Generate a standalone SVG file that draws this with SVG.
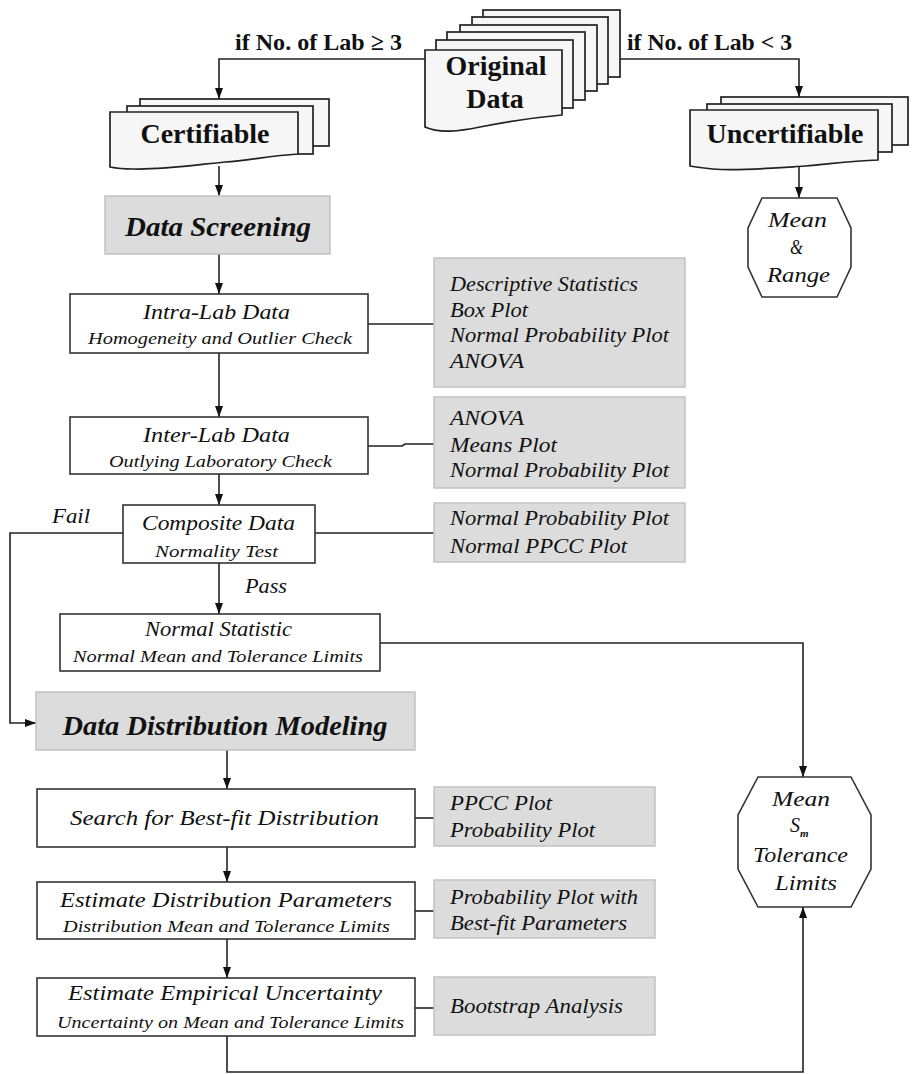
<svg xmlns="http://www.w3.org/2000/svg" width="914" height="1074" viewBox="0 0 914 1074">
<style>
.box{fill:#fff;stroke:#333;stroke-width:1.6}
.gray{fill:#dcdcdc;stroke:#c2c2c2;stroke-width:1.5}
.doc{fill:#f6f6f6;stroke:#222;stroke-width:1.7}
.oct{fill:#fff;stroke:#333;stroke-width:1.6}
.conn{fill:none;stroke:#222;stroke-width:1.6}
.lbl{font-family:"Liberation Serif",serif;font-weight:bold;font-size:24px;fill:#111}
.big{font-family:"Liberation Serif",serif;font-weight:bold;font-size:28px;fill:#111;text-anchor:middle}
.ttl{font-family:"Liberation Serif",serif;font-weight:bold;font-style:italic;font-size:28px;fill:#111;text-anchor:middle}
.it{font-family:"Liberation Serif",serif;font-style:italic;fill:#111}
.t1{font-size:22px}
.t2{font-size:17px}
.t3{font-size:20px}
</style>
<defs>
<marker id="ah" markerUnits="userSpaceOnUse" markerWidth="12" markerHeight="10" refX="11" refY="4" orient="auto">
<path d="M0,0 L11,4 L0,8 Z" fill="#111"/>
</marker>
</defs>
<rect width="914" height="1074" fill="#fff"/>

<g id="connectors">
<polyline class="conn" points="425,59 219,59 219,99" marker-end="url(#ah)"/>
<polyline class="conn" points="620,59 799,59 799,97" marker-end="url(#ah)"/>
<line class="conn" x1="219" y1="166" x2="219" y2="196" marker-end="url(#ah)"/>
<line class="conn" x1="799" y1="165" x2="799" y2="198" marker-end="url(#ah)"/>
<line class="conn" x1="219" y1="254" x2="219" y2="294" marker-end="url(#ah)"/>
<line class="conn" x1="219" y1="353" x2="219" y2="417" marker-end="url(#ah)"/>
<line class="conn" x1="219" y1="474" x2="219" y2="505" marker-end="url(#ah)"/>
<line class="conn" x1="219" y1="563" x2="219" y2="614" marker-end="url(#ah)"/>
<polyline class="conn" points="123,533 10,533 10,723 36,723" marker-end="url(#ah)"/>
<polyline class="conn" points="380,643 803,643 803,777" marker-end="url(#ah)"/>
<line class="conn" x1="227" y1="750" x2="227" y2="789" marker-end="url(#ah)"/>
<line class="conn" x1="227" y1="847" x2="227" y2="882" marker-end="url(#ah)"/>
<line class="conn" x1="227" y1="939" x2="227" y2="978" marker-end="url(#ah)"/>
<polyline class="conn" points="227,1036 227,1072 803,1072 803,907" marker-end="url(#ah)"/>
<line class="conn" x1="368" y1="324" x2="434" y2="324"/>
<polyline class="conn" points="368,446 402,446 405,444 434,444"/>
<line class="conn" x1="315" y1="533" x2="434" y2="533"/>
<line class="conn" x1="415" y1="818" x2="434" y2="818"/>
<line class="conn" x1="415" y1="911" x2="434" y2="911"/>
<line class="conn" x1="415" y1="1008" x2="434" y2="1008"/>
</g>

<g id="labels">
<text class="lbl" x="235" y="50" textLength="167" lengthAdjust="spacingAndGlyphs">if No. of Lab ≥ 3</text>
<text class="lbl" x="627" y="50" textLength="165" lengthAdjust="spacingAndGlyphs">if No. of Lab &lt; 3</text>
<text class="it t3" x="52" y="523" textLength="38" lengthAdjust="spacingAndGlyphs">Fail</text>
<text class="it t3" x="245" y="593" textLength="42" lengthAdjust="spacingAndGlyphs">Pass</text>
</g>

<g id="original-data">
<rect class="doc" x="483" y="10" width="137" height="67"/>
<rect class="doc" x="472" y="17" width="136" height="67"/>
<rect class="doc" x="460" y="25" width="137" height="66"/>
<rect class="doc" x="447" y="32" width="138" height="68"/>
<rect class="doc" x="436" y="40" width="137" height="68"/>
<path class="doc" d="M425,50 H562 V115 C540,117 505,122 480,127 C460,131 440,134 425,127 Z"/>
<text class="big" x="496" y="75">Original</text>
<text class="big" x="495" y="108">Data</text>
</g>

<g id="certifiable">
<rect class="doc" x="140" y="99" width="189" height="47"/>
<rect class="doc" x="127" y="106" width="186" height="48"/>
<path class="doc" d="M110,112 H298 V154 C270,156 250,160 225,162 C195,165 160,170 133,169 C122,169 115,168 110,167 Z"/>
<text class="big" x="205" y="143">Certifiable</text>
</g>

<g id="uncertifiable">
<rect class="doc" x="721" y="97" width="187" height="48"/>
<rect class="doc" x="707" y="104" width="185" height="48"/>
<path class="doc" d="M690,110 H878 V160 C850,161 830,164 805,166 C775,168 740,171 713,169 C702,168 695,167 690,166 Z"/>
<text class="big" x="785" y="143">Uncertifiable</text>
</g>

<g id="mean-range">
<polygon class="oct" points="762,198 837,198 851,228 851,267 837,297 762,297 748,267 748,228"/>
<text class="it t3" x="768" y="227" textLength="59" lengthAdjust="spacingAndGlyphs">Mean</text>
<text class="it t3" x="790" y="254" textLength="13" lengthAdjust="spacingAndGlyphs">&amp;</text>
<text class="it t3" x="767" y="282" textLength="63" lengthAdjust="spacingAndGlyphs">Range</text>
</g>

<g id="data-screening">
<rect class="gray" x="105" y="196" width="225" height="58"/>
<text class="ttl" x="218" y="236" textLength="186" lengthAdjust="spacingAndGlyphs">Data Screening</text>
</g>

<g id="intra-lab">
<rect class="box" x="70" y="294" width="298" height="59"/>
<text class="it t1" x="143" y="319" textLength="147" lengthAdjust="spacingAndGlyphs">Intra-Lab Data</text>
<text class="it t2" x="88" y="344" textLength="264" lengthAdjust="spacingAndGlyphs">Homogeneity and Outlier Check</text>
</g>

<g id="intra-tools">
<rect class="gray" x="434" y="258" width="251" height="129"/>
<text class="it t3" x="450" y="291" textLength="188" lengthAdjust="spacingAndGlyphs">Descriptive Statistics</text>
<text class="it t3" x="450" y="317" textLength="78" lengthAdjust="spacingAndGlyphs">Box Plot</text>
<text class="it t3" x="450" y="342" textLength="219" lengthAdjust="spacingAndGlyphs">Normal Probability Plot</text>
<text class="it t3" x="450" y="368" textLength="74" lengthAdjust="spacingAndGlyphs">ANOVA</text>
</g>

<g id="inter-lab">
<rect class="box" x="70" y="417" width="298" height="57"/>
<text class="it t1" x="143" y="442" textLength="147" lengthAdjust="spacingAndGlyphs">Inter-Lab Data</text>
<text class="it t2" x="109" y="467" textLength="223" lengthAdjust="spacingAndGlyphs">Outlying Laboratory Check</text>
</g>

<g id="inter-tools">
<rect class="gray" x="434" y="397" width="251" height="91"/>
<text class="it t3" x="450" y="425" textLength="74" lengthAdjust="spacingAndGlyphs">ANOVA</text>
<text class="it t3" x="450" y="452" textLength="107" lengthAdjust="spacingAndGlyphs">Means Plot</text>
<text class="it t3" x="450" y="477" textLength="219" lengthAdjust="spacingAndGlyphs">Normal Probability Plot</text>
</g>

<g id="composite">
<rect class="box" x="123" y="505" width="192" height="58"/>
<text class="it t1" x="142" y="530" textLength="153" lengthAdjust="spacingAndGlyphs">Composite Data</text>
<text class="it t2" x="155" y="557" textLength="123" lengthAdjust="spacingAndGlyphs">Normality Test</text>
</g>

<g id="composite-tools">
<rect class="gray" x="434" y="503" width="251" height="59"/>
<text class="it t3" x="450" y="525" textLength="219" lengthAdjust="spacingAndGlyphs">Normal Probability Plot</text>
<text class="it t3" x="450" y="553" textLength="177" lengthAdjust="spacingAndGlyphs">Normal PPCC Plot</text>
</g>

<g id="normal-statistic">
<rect class="box" x="60" y="614" width="320" height="57"/>
<text class="it t3" x="145" y="636" textLength="147" lengthAdjust="spacingAndGlyphs">Normal Statistic</text>
<text class="it t2" x="73" y="662" textLength="290" lengthAdjust="spacingAndGlyphs">Normal Mean and Tolerance Limits</text>
</g>

<g id="data-distribution-modeling">
<rect class="gray" x="36" y="692" width="379" height="58"/>
<text class="ttl" x="225" y="735" textLength="325" lengthAdjust="spacingAndGlyphs">Data Distribution Modeling</text>
</g>

<g id="search">
<rect class="box" x="37" y="789" width="378" height="58"/>
<text class="it t1" x="70" y="825" textLength="309" lengthAdjust="spacingAndGlyphs">Search for Best-fit Distribution</text>
</g>

<g id="search-tools">
<rect class="gray" x="434" y="787" width="221" height="59"/>
<text class="it t3" x="450" y="810" textLength="102" lengthAdjust="spacingAndGlyphs">PPCC Plot</text>
<text class="it t3" x="450" y="837" textLength="145" lengthAdjust="spacingAndGlyphs">Probability Plot</text>
</g>

<g id="estimate-parameters">
<rect class="box" x="37" y="882" width="378" height="57"/>
<text class="it t1" x="60" y="907" textLength="332" lengthAdjust="spacingAndGlyphs">Estimate Distribution Parameters</text>
<text class="it t2" x="63" y="932" textLength="327" lengthAdjust="spacingAndGlyphs">Distribution Mean and Tolerance Limits</text>
</g>

<g id="estimate-tools">
<rect class="gray" x="434" y="880" width="221" height="58"/>
<text class="it t3" x="450" y="904" textLength="188" lengthAdjust="spacingAndGlyphs">Probability Plot with</text>
<text class="it t3" x="450" y="930" textLength="177" lengthAdjust="spacingAndGlyphs">Best-fit Parameters</text>
</g>

<g id="empirical-uncertainty">
<rect class="box" x="37" y="978" width="378" height="58"/>
<text class="it t1" x="68" y="1000" textLength="314" lengthAdjust="spacingAndGlyphs">Estimate Empirical Uncertainty</text>
<text class="it t2" x="57" y="1028" textLength="347" lengthAdjust="spacingAndGlyphs">Uncertainty on Mean and Tolerance Limits</text>
</g>

<g id="bootstrap-tools">
<rect class="gray" x="434" y="977" width="221" height="58"/>
<text class="it t3" x="450" y="1013" textLength="173" lengthAdjust="spacingAndGlyphs">Bootstrap Analysis</text>
</g>

<g id="mean-sm-tolerance">
<polygon class="oct" points="758,777 851,777 871,815 871,869 851,907 758,907 738,869 738,815"/>
<text class="it t3" x="772" y="806" textLength="58" lengthAdjust="spacingAndGlyphs">Mean</text>
<text class="it t3" x="790" y="832">S<tspan font-size="11" font-weight="bold" dy="5">m</tspan></text>
<text class="it t3" x="753" y="862" textLength="95" lengthAdjust="spacingAndGlyphs">Tolerance</text>
<text class="it t3" x="775" y="890" textLength="62" lengthAdjust="spacingAndGlyphs">Limits</text>
</g>
</svg>
